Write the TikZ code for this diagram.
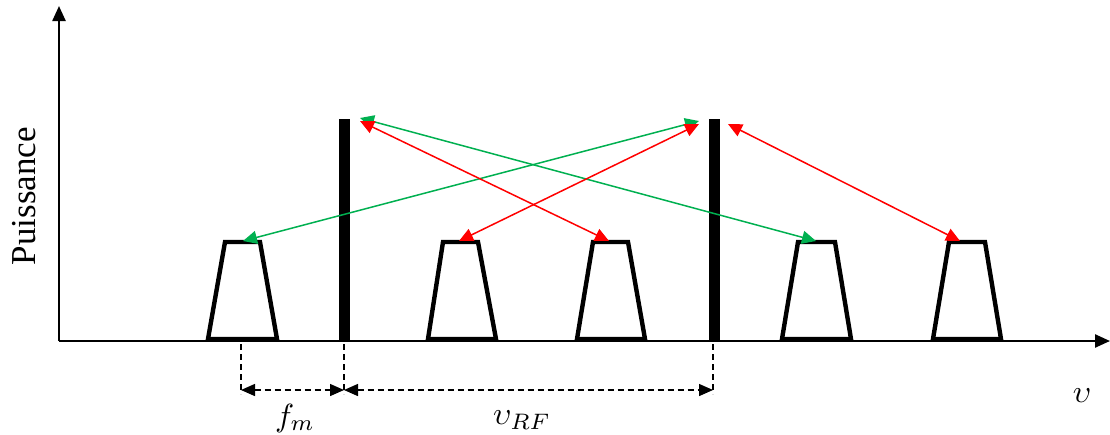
\documentclass[tikz,border=0pt]{standalone}
\usepackage{fontspec}
\setmainfont{Liberation Serif}
\usetikzlibrary{arrows.meta}
\definecolor{myred}{RGB}{255,0,0}
\definecolor{mygreen}{RGB}{0,176,80}
\tikzset{
  axis/.style={line width=2.4pt,-{Triangle[length=15pt,width=13pt]}},
  bar/.style={line width=11pt},
  trap/.style={line width=4.4pt,line join=miter},
  link/.style={line width=1.5pt,{Triangle[length=14pt,width=13pt]}-{Triangle[length=14pt,width=13pt]}},
  dim/.style={line width=1.4pt,dash pattern=on 6pt off 4pt},
  dimarrow/.style={dim,{Triangle[length=14pt,width=12pt]}-{Triangle[length=14pt,width=12pt]}},
  mlabel/.style={scale=3.2,inner sep=0pt}
}
\begin{document}
\begin{tikzpicture}[x=1pt,y=-1pt]
\useasboundingbox (0,0) rectangle (1110,434);
% axes
\coordinate (O) at (59,341);
\coordinate (Ytop) at (59,6);
\coordinate (Xend) at (1110,341);
\draw[axis] (O) -- (Ytop);
\draw[axis] (O) -- (Xend);
\node[rotate=90,scale=3.5] (ylab) at (24,196) {Puissance};
\node[mlabel] (xlab) at (1082,396) {$\upsilon$};
% bars
\coordinate (b1bot) at (344,341);
\coordinate (b1top) at (344,119);
\coordinate (b2bot) at (714,341);
\coordinate (b2top) at (714,119);
\draw[bar] (b1bot) -- (b1top);
\draw[bar] (b2bot) -- (b2top);
% trapezoids
\draw[trap] (208,339) -- (225,242) -- (260,242) -- (277,339) -- cycle;
\draw[trap] (428,339) -- (443,242) -- (478,242) -- (496,339) -- cycle;
\draw[trap] (577,339) -- (593,242) -- (628,242) -- (645,339) -- cycle;
\draw[trap] (782,339) -- (798,242) -- (835,242) -- (851,339) -- cycle;
\draw[trap] (933,339) -- (949,242) -- (985,242) -- (1001,339) -- cycle;
\coordinate (t1) at (243,241);
\coordinate (t2) at (459,241);
\coordinate (t3) at (609,241);
\coordinate (t4) at (816,241);
\coordinate (t5) at (960,241);
\coordinate (b1a) at (360,118);
\coordinate (b1b) at (360,121);
\coordinate (b2a) at (699,121);
\coordinate (b2b) at (699,124);
\coordinate (b2c) at (728,124);
% links
\draw[link,mygreen] (t1) -- (b2a);
\draw[link,mygreen] (b1a) -- (t4);
\draw[link,myred] (b1b) -- (t3);
\draw[link,myred] (t2) -- (b2b);
\draw[link,myred] (b2c) -- (t5);
% dimensions
\coordinate (d1a) at (241,344);
\coordinate (d1b) at (241,394);
\coordinate (d2a) at (344,344);
\coordinate (d2b) at (344,394);
\coordinate (d3a) at (713,344);
\coordinate (d3b) at (713,394);
\coordinate (h1) at (241,390);
\coordinate (h2) at (344,390);
\coordinate (h3) at (713,390);
\draw[dim] (d1a) -- (d1b);
\draw[dim] (d2a) -- (d2b);
\draw[dim] (d3a) -- (d3b);
\draw[dimarrow] (h1) -- (h2);
\draw[dimarrow] (h2) -- (h3);
\node[mlabel] (fm) at (295,418) {$f_m$};
\node[mlabel] (vrf) at (522,420) {$\upsilon_{RF}$};
\end{tikzpicture}
\end{document}
